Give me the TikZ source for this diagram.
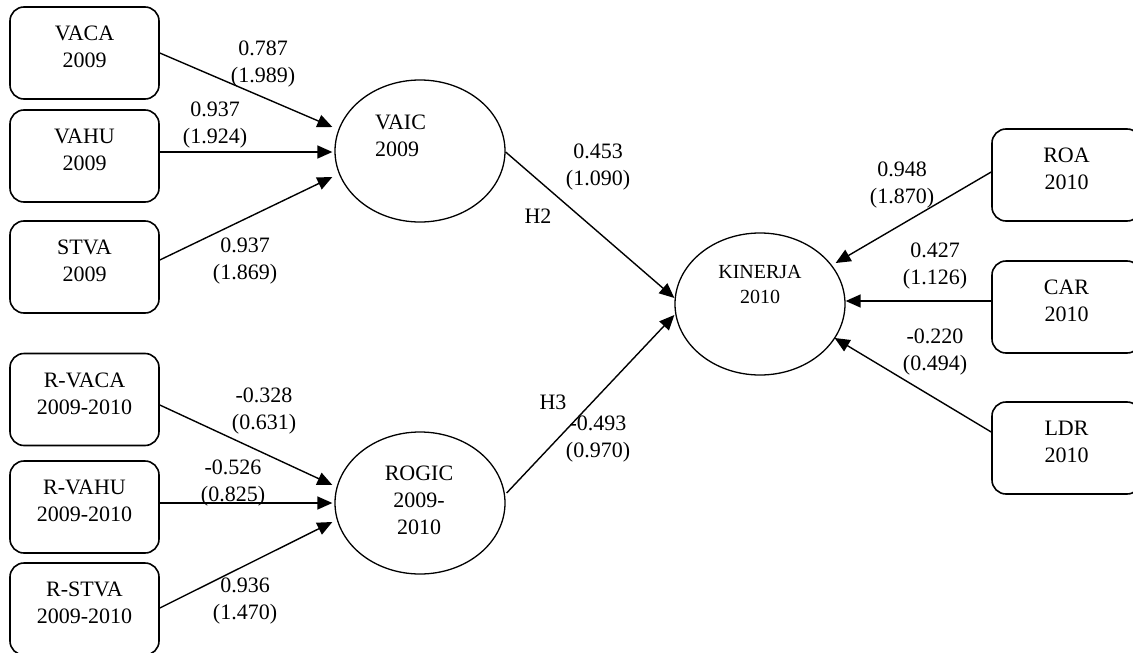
\documentclass[tikz,border=0pt]{standalone}
\usepackage{fontspec}
\setmainfont{Liberation Serif}
\usetikzlibrary{arrows.meta,shapes.geometric,calc}
\tikzset{
  obsbox/.style={draw, rounded corners=14pt, line width=1.6pt, minimum width=149pt,
    minimum height=92pt, align=center, inner sep=0pt, text depth=12pt,
    font=\fontsize{22}{27}\selectfont},
  latent/.style={draw, ellipse, line width=1.3pt, minimum width=170pt, minimum height=142pt, inner sep=0pt},
  lbl/.style={align=center, inner sep=0pt, text depth=0pt, font=\fontsize{22}{27}\selectfont},
  arr/.style={-{Triangle[length=15pt,width=13pt]}, line width=1.4pt},
}
\begin{document}
\begin{tikzpicture}[x=1pt,y=-1pt]
\useasboundingbox (0,0) rectangle (1133,653);
\clip (0,0) rectangle (1133,653);
% left boxes
\node[obsbox] (vaca) at (84.5,53) {VACA\\2009};
\node[obsbox] (vahu) at (84.5,156) {VAHU\\2009};
\node[obsbox] (stva) at (84.5,267) {STVA\\2009};
\node[obsbox] (rvaca) at (84.5,399.5) {R-VACA\\2009-2010};
\node[obsbox] (rvahu) at (84.5,507) {R-VAHU\\2009-2010};
\node[obsbox] (rstva) at (84.5,609) {R-STVA\\2009-2010};
% right boxes
\node[obsbox] (roa) at (1066.5,175) {ROA\\2010};
\node[obsbox] (car) at (1066.5,307) {CAR\\2010};
\node[obsbox] (ldr) at (1066.5,448) {LDR\\2010};
% latent variables
\node[latent] (vaic) at (420,151) {};
\node[latent] (rogic) at (420,503) {};
\node[latent] (kin) at (760,304) {};
\node[lbl, align=left] (vaict) at (400.5,135.5) {VAIC\\2009};
\node[lbl] (rogict) at (419,500) {ROGIC\\2009-\\2010};
\node[lbl, font=\fontsize{20}{25}\selectfont] (kint) at (760,284.5) {KINERJA\\2010};
% arrows
\draw[arr] (vaca.east) -- ($(vaic.west)+(-2,-24)$);
\draw[arr] ($(vahu.east)+(0,-4)$) -- ($(vaic.west)+(-2,1)$);
\draw[arr] ($(stva.east)+(0,-7)$) -- ($(vaic.west)+(-2,26)$);
\draw[arr] ($(rvaca.east)+(0,5.5)$) -- ($(rogic.west)+(-2,-18)$);
\draw[arr] ($(rvahu.east)+(0,-4)$) -- ($(rogic.west)+(-2,0)$);
\draw[arr] ($(rstva.east)+(0,-1)$) -- ($(rogic.west)+(-2,19)$);
\draw[arr] ($(vaic.east)+(0,1)$) -- ($(kin.west)+(0,-6)$);
\draw[arr] ($(rogic.east)+(1,-10)$) -- ($(kin.west)+(0,11)$);
\draw[arr] ($(roa.west)+(0,-3)$) -- ($(kin.east)+(-10,-41)$);
\draw[arr] ($(car.west)+(0,-6)$) -- ($(kin.east)+(0,-3)$);
\draw[arr] ($(ldr.west)+(0,-16)$) -- ($(kin.east)+(-11,34)$);
% labels
\node[lbl] (l1) at (263,61.5) {0.787\\(1.989)};
\node[lbl] (l2) at (215,122.5) {0.937\\(1.924)};
\node[lbl] (l3) at (245,258.5) {0.937\\(1.869)};
\node[lbl] (l4) at (264,408.5) {-0.328\\(0.631)};
\node[lbl] (l5) at (233,481) {-0.526\\(0.825)};
\node[lbl] (l6) at (245,599) {0.936\\(1.470)};
\node[lbl] (l7) at (598,165) {0.453\\(1.090)};
\node[lbl] (h2) at (538,216) {H2};
\node[lbl] (h3) at (553,402) {H3};
\node[lbl] (l8) at (598,436.5) {-0.493\\(0.970)};
\node[lbl] (l9) at (902,183) {0.948\\(1.870)};
\node[lbl] (l10) at (935,263.5) {0.427\\(1.126)};
\node[lbl] (l11) at (935,350) {-0.220\\(0.494)};
\end{tikzpicture}
\end{document}
